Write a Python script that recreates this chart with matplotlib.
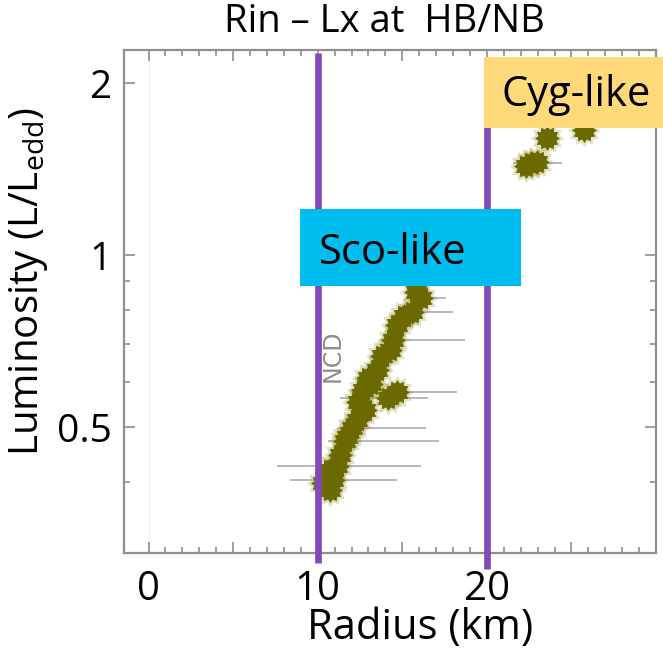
import matplotlib
matplotlib.use("Agg")
import matplotlib.pyplot as plt
from matplotlib.patches import Rectangle
from matplotlib.path import Path
from matplotlib.ticker import FixedLocator, NullFormatter
import matplotlib.transforms as mtransforms

plt.rcParams['font.family'] = ['Open Sans', 'DejaVu Sans']
plt.rcParams['mathtext.fontset'] = 'custom'
plt.rcParams['mathtext.rm'] = 'Open Sans'

# Inner disk radius (km) and luminosity (L/Ledd) along the HB/NB track
radius = [22.63, 22.33, 22.98, 23.57, 25.75,
          15.84, 16.08, 15.60, 15.13, 14.66, 14.48, 14.25, 13.78,
          13.48, 12.95, 13.18, 12.65, 14.66, 14.13, 12.36, 12.77, 12.30,
          12.01, 11.71, 11.59, 11.30, 11.12, 10.71, 10.88, 10.30, 10.71]
lum = [1.449, 1.432, 1.455, 1.603, 1.655,
       0.861, 0.841, 0.795, 0.782, 0.754, 0.710, 0.682, 0.666,
       0.629, 0.609, 0.595, 0.580, 0.576, 0.562, 0.553, 0.535, 0.514,
       0.498, 0.480, 0.4725, 0.447, 0.427, 0.420, 0.404, 0.399, 0.388]
err_lo = [1.1, 0.6, 0.6, 0.6, 0.6,
          0.6, 0.5, 0.8, 0.6, 0.6, 0.8, 0.6, 0.6,
          0.6, 0.6, 0.6, 0.6, 1.0, 2.8, 0.6, 0.6, 0.6,
          0.8, 0.6, 1.0, 0.6, 3.5, 0.6, 2.5, 0.6, 0.6]
err_hi = [1.8, 0.6, 0.6, 0.6, 0.6,
          0.6, 1.5, 2.4, 0.6, 0.6, 4.2, 0.6, 0.6,
          0.6, 0.6, 0.6, 0.6, 3.6, 2.4, 0.6, 0.6, 0.6,
          4.4, 0.6, 5.6, 0.6, 5.0, 0.6, 3.8, 0.6, 0.6]

boundaries = [10, 20]
x_ticks_labeled = [0, 10, 20]
y_ticks_labeled = [0.5, 1, 2]
y_minor = [0.4, 0.6, 0.7, 0.8, 0.9]

W, H = 663, 649
fig = plt.figure(figsize=(W / 100, H / 100), dpi=100)
ax = fig.add_axes([124 / W, 1 - 553 / H, (656 - 124) / W, (553 - 50) / H])

ax.set_yscale('log')
ax.set_xlim(-1.45, 30.0)
ax.set_ylim(0.301, 2.285)

frame_col = '#8f8f8f'
for sp in ax.spines.values():
    sp.set_color(frame_col)
    sp.set_linewidth(1.6)

# ticks: inward on all sides, IDL style
ax.xaxis.set_major_locator(FixedLocator(list(range(0, 31, 5))))
ax.xaxis.set_minor_locator(FixedLocator(list(range(0, 31))))
ax.set_xticklabels([str(v) if v in x_ticks_labeled else '' for v in range(0, 31, 5)])
ax.yaxis.set_major_locator(FixedLocator(y_ticks_labeled))
ax.yaxis.set_minor_locator(FixedLocator(y_minor))
ax.set_yticklabels(['0.5', '1', '2'])
ax.yaxis.set_minor_formatter(NullFormatter())
ax.tick_params(which='both', direction='in', top=True, right=True, color=frame_col, width=1.2)
ax.tick_params(which='major', length=8)
ax.tick_params(which='minor', length=4)
ax.tick_params(axis='x', which='major', labelsize=29, pad=12, labelcolor='black')
ax.tick_params(axis='y', which='major', labelsize=28, pad=9, labelcolor='black')

# faint zero line
ax.axvline(0, color='#f1f1f1', lw=1, zorder=0)

# error bars and star markers
ax.errorbar(radius, lum, xerr=[err_lo, err_hi], fmt='none', ecolor='#b8b8b8',
            elinewidth=1.4, capsize=0, zorder=2)
star = Path.unit_regular_star(12, 0.74)
ax.plot(radius, lum, linestyle='none', marker=star, markersize=24,
        color='#a09e45', alpha=0.3, markeredgewidth=0, zorder=3)
ax.plot(radius, lum, linestyle='none', marker=star, markersize=18,
        color='#6b6a00', markeredgewidth=0, zorder=4)

ax.text(0.393, 0.392, 'NCD', transform=ax.transAxes, rotation=90, fontsize=17,
        color='#8c8c8c', ha='center', va='center',
        family=['DejaVu Sans'], zorder=5)

# Cyg-like label box (behind the 20 km line)
fig.patches.append(Rectangle((484 / W, 1 - 128 / H), 1 - 484 / W, (128 - 57) / H,
                             transform=fig.transFigure, facecolor='#ffd97a',
                             edgecolor='none', zorder=5))
fig.text(502 / W, 1 - 95 / H, 'Cyg-like', fontsize=30, ha='left', va='center', zorder=6)

# boundary lines at 10 and 20 km
trans = mtransforms.blended_transform_factory(ax.transData, ax.transAxes)
line_ext = {10: (-0.02, 0.994), 20: (-0.032, 0.98)}
for b in boundaries:
    y0, y1 = line_ext[b]
    ax.plot([b, b], [y0, y1], transform=trans, color='#8349b8', lw=4.8,
            solid_capstyle='butt', clip_on=False, zorder=7)

# Sco-like label box (above the lines)
ax.add_patch(Rectangle((0.331, 0.531), 0.415, 0.153, transform=ax.transAxes,
                       facecolor='#00bdf0', edgecolor='none', zorder=8, clip_on=False))
ax.text(0.367, 0.596, 'Sco-like', transform=ax.transAxes, fontsize=30,
        ha='left', va='center', zorder=9)

ax.set_xlabel('Radius (km)', fontsize=30)
ax.xaxis.label.set_va('center')
ax.xaxis.set_label_coords(0.556, -0.150)
ax.set_ylabel(r'Luminosity (L/L$_{\mathrm{edd}}$)', fontsize=29)
ax.yaxis.label.set_va('center')
ax.yaxis.set_label_coords(-0.179, 0.54)

fig.text(384 / W, 1 - 22 / H, 'Rin \u2013 Lx at  HB/NB', fontsize=27.5, ha='center', va='center')

fig.savefig('out.png', dpi=100)
